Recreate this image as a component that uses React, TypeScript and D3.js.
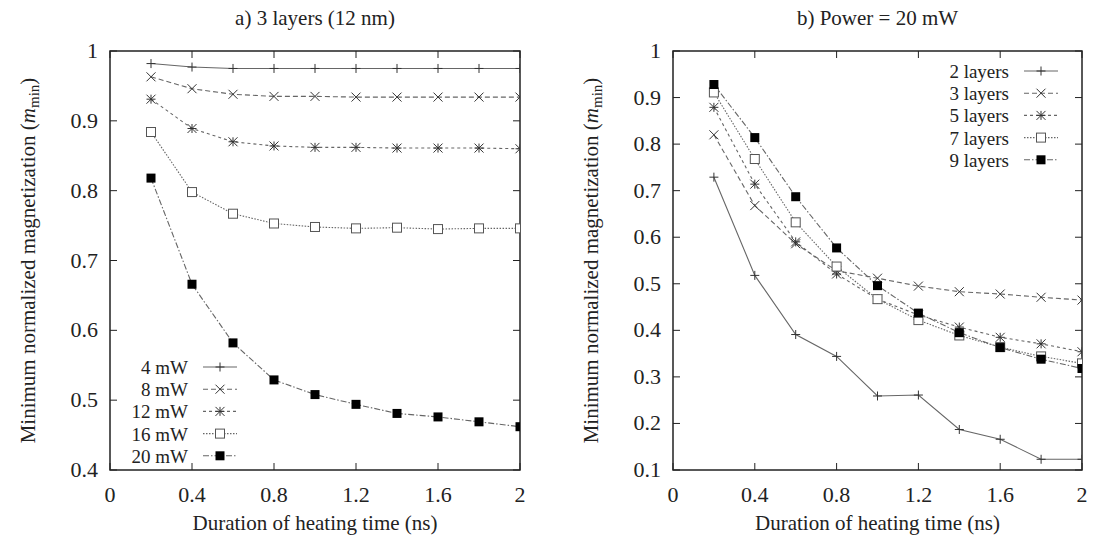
import React, { useEffect, useRef } from "react";
import * as d3 from "d3";

// heating durations (ns)
const durations = [0.2, 0.4, 0.6, 0.8, 1.0, 1.2, 1.4, 1.6, 1.8, 2.0];

// panel a) 3 layers, different power
const powerLabels = ["4 mW", "8 mW", "12 mW", "16 mW", "20 mW"];
const mW4 = [0.982, 0.977, 0.975, 0.975, 0.975, 0.975, 0.975, 0.975, 0.975, 0.975];
const mW8 = [0.963, 0.946, 0.938, 0.935, 0.935, 0.934, 0.934, 0.934, 0.934, 0.934];
const mW12 = [0.931, 0.889, 0.870, 0.864, 0.862, 0.862, 0.861, 0.861, 0.861, 0.860];
const mW16 = [0.884, 0.798, 0.767, 0.753, 0.748, 0.746, 0.747, 0.745, 0.746, 0.746];
const mW20 = [0.818, 0.666, 0.582, 0.529, 0.508, 0.494, 0.481, 0.476, 0.469, 0.462];

// panel b) power 20 mW, different layer count
const layerLabels = ["2 layers", "3 layers", "5 layers", "7 layers", "9 layers"];
const layers2 = [0.729, 0.518, 0.391, 0.344, 0.259, 0.261, 0.187, 0.166, 0.123, 0.123];
const layers3 = [0.820, 0.668, 0.586, 0.528, 0.512, 0.495, 0.483, 0.478, 0.471, 0.465];
const layers5 = [0.879, 0.714, 0.590, 0.521, 0.467, 0.433, 0.407, 0.385, 0.371, 0.354];
const layers7 = [0.911, 0.768, 0.632, 0.537, 0.467, 0.422, 0.389, 0.364, 0.344, 0.329];
const layers9 = [0.928, 0.814, 0.687, 0.577, 0.496, 0.437, 0.395, 0.363, 0.338, 0.318];

const xTicks = [0, 0.4, 0.8, 1.2, 1.6, 2];
const yTicksA = [0.4, 0.5, 0.6, 0.7, 0.8, 0.9, 1];
const yTicksB = [0.1, 0.2, 0.3, 0.4, 0.5, 0.6, 0.7, 0.8, 0.9, 1];

const markers = ["plus", "cross", "star", "box", "fbox"];
const dashes = [null, "5,3", "3,3", "1.5,1.5", "6,2,1.5,2"];

const FONT = "'Times New Roman', 'Liberation Serif', Tinos, 'DejaVu Serif', serif";
const INK = "#222";
const LINE = "#666";

function drawMarker(g, type, x, y) {
  const s = 4.5;
  const m = g.append("g").attr("transform", `translate(${x},${y})`);
  const ln = (x1, y1, x2, y2) =>
    m.append("line").attr("x1", x1).attr("y1", y1).attr("x2", x2).attr("y2", y2)
      .attr("stroke", "#333").attr("stroke-width", 1);
  if (type === "plus" || type === "star") {
    ln(-s, 0, s, 0);
    ln(0, -s, 0, s);
  }
  if (type === "cross" || type === "star") {
    ln(-s, -s, s, s);
    ln(-s, s, s, -s);
  }
  if (type === "box") {
    m.append("rect").attr("x", -s).attr("y", -s).attr("width", 2 * s).attr("height", 2 * s)
      .attr("fill", "#fff").attr("stroke", "#555").attr("stroke-width", 1);
  }
  if (type === "fbox") {
    m.append("rect").attr("x", -s).attr("y", -s).attr("width", 2 * s).attr("height", 2 * s)
      .attr("fill", "#000");
  }
}

function txt(g, x, y, size, anchor, s) {
  return g.append("text").attr("x", x).attr("y", y).attr("text-anchor", anchor)
    .attr("font-family", FONT).attr("font-size", size).attr("fill", INK).text(s);
}

function drawPanel(svg, opts) {
  const { left, right, top, bottom, yTicks, yMin, series, labels, title, legendX, legendY, yLabelX } = opts;
  const x = d3.scaleLinear().domain([0, 2]).range([left, right]);
  const y = d3.scaleLinear().domain([yMin, 1]).range([bottom, top]);
  const g = svg.append("g");

  const clipId = "clip" + Math.round(left);
  g.append("clipPath").attr("id", clipId).append("rect")
    .attr("x", left).attr("y", top).attr("width", right - left).attr("height", bottom - top);

  // frame
  g.append("rect").attr("x", left).attr("y", top).attr("width", right - left).attr("height", bottom - top)
    .attr("fill", "none").attr("stroke", INK).attr("stroke-width", 1.5);

  // ticks (mirrored, inward)
  const tl = 7;
  xTicks.forEach((t) => {
    g.append("line").attr("x1", x(t)).attr("x2", x(t)).attr("y1", bottom).attr("y2", bottom - tl).attr("stroke", INK);
    g.append("line").attr("x1", x(t)).attr("x2", x(t)).attr("y1", top).attr("y2", top + tl).attr("stroke", INK);
    txt(g, x(t), bottom + 32, 22, "middle", String(t));
  });
  yTicks.forEach((t) => {
    g.append("line").attr("x1", left).attr("x2", left + tl).attr("y1", y(t)).attr("y2", y(t)).attr("stroke", INK);
    g.append("line").attr("x1", right).attr("x2", right - tl).attr("y1", y(t)).attr("y2", y(t)).attr("stroke", INK);
    txt(g, left - 12, y(t) + 7, 22, "end", d3.format("~g")(t));
  });

  // title
  txt(g, (left + right) / 2, 25, 21, "middle", title);

  // x label
  txt(g, (left + right) / 2, 530, 21, "middle", "Duration of heating time (ns)");

  // y label
  const yl = g.append("text").attr("transform", `translate(${yLabelX},${(top + bottom) / 2}) rotate(-90)`)
    .attr("text-anchor", "middle").attr("font-family", FONT).attr("font-size", 21).attr("fill", INK);
  yl.append("tspan").text("Minimum normalized magnetization (");
  yl.append("tspan").attr("font-style", "italic").text("m");
  yl.append("tspan").attr("font-size", 15).attr("dy", 4).text("min");
  yl.append("tspan").attr("dy", -4).text(")");

  const line = d3.line().x((d, i) => x(durations[i])).y((d) => y(d));
  const plot = g.append("g").attr("clip-path", `url(#${clipId})`);
  series.forEach((vals, k) => {
    plot.append("path").datum(vals).attr("d", line).attr("fill", "none")
      .attr("stroke", LINE).attr("stroke-width", 1.1)
      .attr("stroke-dasharray", dashes[k]);
  });
  series.forEach((vals, k) => {
    vals.forEach((v, i) => drawMarker(plot, markers[k], x(durations[i]), y(v)));
  });

  // legend
  labels.forEach((lab, k) => {
    const cy = legendY + k * 22.2;
    txt(g, legendX, cy + 7, 19, "end", lab);
    g.append("line").attr("x1", legendX + 15).attr("x2", legendX + 49).attr("y1", cy).attr("y2", cy)
      .attr("stroke", LINE).attr("stroke-width", 1.1).attr("stroke-dasharray", dashes[k]);
    drawMarker(g, markers[k], legendX + 32, cy);
  });
}

const App = () => {
  const svgRef = useRef(null);

  useEffect(() => {
    const svg = d3.select(svgRef.current);
    svg.selectAll("*").remove();

    drawPanel(svg, {
      left: 110, right: 520, top: 51, bottom: 470,
      yTicks: yTicksA, yMin: 0.4,
      series: [mW4, mW8, mW12, mW16, mW20],
      labels: powerLabels,
      title: "a) 3 layers (12 nm)",
      legendX: 188, legendY: 367,
      yLabelX: 35,
    });
    drawPanel(svg, {
      left: 673, right: 1082, top: 51, bottom: 470,
      yTicks: yTicksB, yMin: 0.1,
      series: [layers2, layers3, layers5, layers7, layers9],
      labels: layerLabels,
      title: "b) Power = 20 mW",
      legendX: 1009, legendY: 71,
      yLabelX: 598,
    });
  }, []);

  return (
    <svg
      ref={svgRef}
      width={1093}
      height={541}
      fontFamily={FONT}
      style={{ position: "absolute", left: 0, top: 0, background: "#fff", fontFamily: FONT }}
    />
  );
};

export default App;
